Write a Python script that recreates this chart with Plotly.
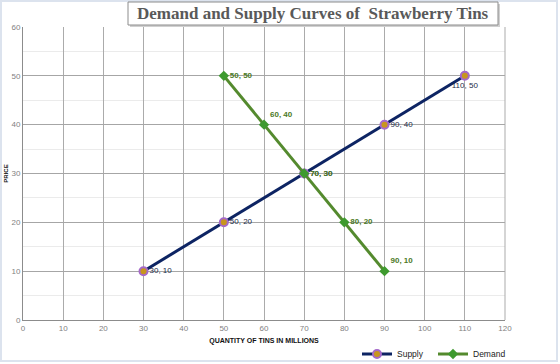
import plotly.graph_objects as go

supply_x = [30, 50, 70, 90, 110]
supply_y = [10, 20, 30, 40, 50]
demand_x = [50, 60, 70, 80, 90]
demand_y = [50, 40, 30, 20, 10]
supply_pos = ["middle right", "middle right", "middle right", "middle right", "bottom center"]
demand_pos = ["middle right", "top right", "middle right", "middle right", "top right"]
x_ticks = list(range(0, 121, 10))
y_ticks = list(range(0, 61, 10))

L, R, T, B = 23, 55, 27, 44
W, H = 560, 364
pw, ph = W - L - R, H - T - B

def px(x):
    return (x - L) / pw

def py(y):
    return (H - B - y) / ph

fig = go.Figure()
fig.add_trace(go.Scatter(
    x=supply_x, y=supply_y, mode="lines+markers+text", name="Supply",
    line=dict(color="#0D2463", width=3),
    marker=dict(symbol="circle", size=8, color="#C8961E", line=dict(color="#A569C9", width=2)),
    text=[f"{a}, {b}" for a, b in zip(supply_x, supply_y)],
    textposition=supply_pos,
    textfont=dict(family="Liberation Sans", size=8, color="#1B2A48"),
))
fig.add_trace(go.Scatter(
    x=demand_x, y=demand_y, mode="lines+markers+text", name="Demand",
    line=dict(color="#548A2E", width=3),
    marker=dict(symbol="diamond", size=8, color="#3E9A2E"),
    text=[f"<b>{a}, {b}</b>" for a, b in zip(demand_x, demand_y)],
    textposition=demand_pos,
    textfont=dict(family="Liberation Sans", size=8, color="#4C7A26"),
))

fig.update_layout(
    width=W, height=H,
    margin=dict(l=L, r=R, t=T, b=B, autoexpand=False),
    paper_bgcolor="white", plot_bgcolor="white",
    showlegend=True,
    legend=dict(orientation="h", x=px(357), y=py(354), xanchor="left", yanchor="middle",
                font=dict(family="Liberation Sans", size=8.5, color="#222"),
                bgcolor="rgba(0,0,0,0)", itemwidth=30, tracegroupgap=0,
                entrywidth=31, entrywidthmode="pixels"),
    xaxis=dict(range=[0, 120], tickvals=x_ticks, ticktext=[str(v) for v in x_ticks],
               automargin=False,
               showgrid=True, gridcolor="#ABABAB", gridwidth=1,
               showline=True, linecolor="#8C8C8C", mirror=False, zeroline=False,
               tickfont=dict(family="Liberation Sans", size=8, color="#7F7F7F"),
               ticks="", ticklen=0,
               title=dict(text="<b>QUANTITY OF TINS IN MILLIONS</b>", standoff=6,
                          font=dict(family="Liberation Sans", size=7, color="#111"))),
    yaxis=dict(range=[0, 60], tickvals=y_ticks, ticktext=[str(v) for v in y_ticks],
               automargin=False,
               showgrid=True, gridcolor="#A6A6A6", gridwidth=1,
               minor=dict(dtick=5, showgrid=True, gridcolor="#EBEBEB"),
               showline=True, linecolor="#8C8C8C", zeroline=False,
               tickfont=dict(family="Liberation Sans", size=8, color="#7F7F7F"),
               title=dict(text="<b>PRICE</b>", standoff=2,
                          font=dict(family="Liberation Sans", size=6, color="#111"))),
    shapes=[
        dict(type="line", xref="paper", yref="paper", x0=1, x1=1, y0=0, y1=1,
             line=dict(color="#ABABAB", width=1)),
        dict(type="rect", xref="paper", yref="paper", x0=px(1), x1=px(557), y0=py(361), y1=py(1),
             line=dict(color="#DCE3EE", width=2)),
        dict(type="rect", xref="paper", yref="paper", x0=px(130), x1=px(500), y0=py(27), y1=py(4),
             line=dict(width=0), fillcolor="#D0D0D0"),
        dict(type="rect", xref="paper", yref="paper", x0=px(128), x1=px(498), y0=py(25), y1=py(2),
             line=dict(color="#8C8C8C", width=1), fillcolor="white"),
    ],
    annotations=[
        dict(text="<b>Demand and Supply Curves of  Strawberry Tins</b>", xref="paper", yref="paper",
             x=px(313), y=py(13.5), xanchor="center", yanchor="middle", showarrow=False,
             font=dict(family="Liberation Serif", size=17, color="#595959")),
    ],
)

fig.write_html("out.html")
